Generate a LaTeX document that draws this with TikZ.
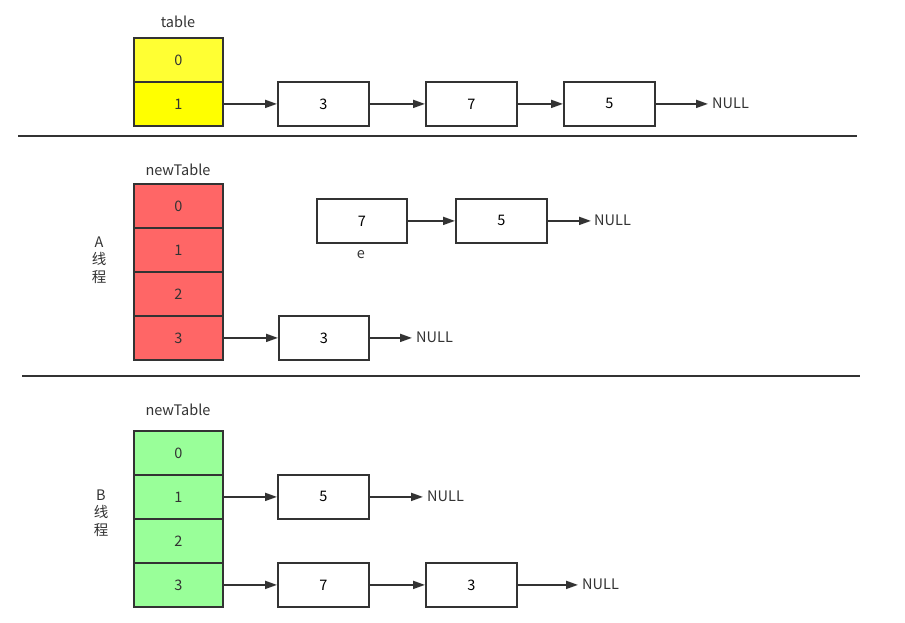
\documentclass[tikz,border=0pt]{standalone}
\usepackage{fontspec}
\setmainfont{Noto Sans CJK SC}
\usetikzlibrary{arrows.meta}
\definecolor{edge}{HTML}{333333}
\definecolor{ylwA}{HTML}{FFFF33}
\definecolor{ylwB}{HTML}{FFFF00}
\definecolor{redc}{HTML}{FF6666}
\definecolor{grnc}{HTML}{99FF99}
\begin{document}
\begin{tikzpicture}[x=1pt,y=-1pt,
  cell/.style={draw=edge,line width=1.8pt,minimum width=89pt,minimum height=44pt,inner sep=0pt,anchor=north west,text=edge,font=\fontsize{14.5}{17}\selectfont},
  lnode/.style={draw=edge,line width=1.8pt,fill=white,minimum width=91pt,minimum height=44pt,inner sep=0pt,anchor=north west,text=black,font=\fontsize{14.5}{17}\selectfont},
  lbl/.style={text=edge,font=\fontsize{14.5}{17}\selectfont,inner sep=0pt},
  nul/.style={lbl,anchor=west},
  link/.style={draw=edge,line width=1.8pt,-{Triangle[length=12pt,width=8pt]}},
  sep/.style={draw=edge,line width=1.8pt}]
\useasboundingbox (0,0) rectangle (905,622);
% top
\node[lbl] (tlab) at (178,22) {table};
\node[cell,fill=ylwA] (t0) at (133,37) {0};
\node[cell,fill=ylwB] (t1) at (133,81) {1};
\node[lnode] (ta) at (277,81) {3};
\node[lnode] (tb) at (425,81) {7};
\node[lnode] (tc) at (563,81) {5};
\node[nul] (tn) at (712,103.5) {NULL};
\draw[link] (t1.east) -- (ta.west);
\draw[link] (ta.east) -- (tb.west);
\draw[link] (tb.east) -- (tc.west);
\draw[link,shorten >=4pt] (tc.east) -- (tc.east -| tn.west);
\coordinate (s1a) at (18,136); \coordinate (s1b) at (857,136);
\draw[sep] (s1a) -- (s1b);
% A
\node[lbl] (alab) at (178,170) {newTable};
\node[cell,fill=redc] (a0) at (133,183) {0};
\node[cell,fill=redc] (a1) at (133,227) {1};
\node[cell,fill=redc] (a2) at (133,271) {2};
\node[cell,fill=redc] (a3) at (133,315) {3};
\node[lbl,align=center,font=\fontsize{14.5}{17.5}\selectfont] (athr) at (99,260) {A\\线\\程};
\node[lnode,minimum width=90pt] (ae) at (316,198) {7};
\node[lnode] (af) at (455,198) {5};
\node[nul] (an1) at (594,220.5) {NULL};
\node[lbl] (elab) at (361,255) {e};
\draw[link] (ae.east) -- (af.west);
\draw[link,shorten >=3pt] (af.east) -- (af.east -| an1.west);
\node[lnode,minimum width=90pt] (ag) at (278,315) {3};
\node[nul] (an2) at (416,337.5) {NULL};
\draw[link] (a3.east) -- (ag.west);
\draw[link,shorten >=4pt] (ag.east) -- (ag.east -| an2.west);
\coordinate (s2a) at (22,376); \coordinate (s2b) at (860,376);
\draw[sep] (s2a) -- (s2b);
% B
\node[lbl] (blab) at (178,410) {newTable};
\node[cell,fill=grnc] (b0) at (133,430) {0};
\node[cell,fill=grnc] (b1) at (133,474) {1};
\node[cell,fill=grnc] (b2) at (133,518) {2};
\node[cell,fill=grnc] (b3) at (133,562) {3};
\node[lbl,align=center,font=\fontsize{14.5}{17.5}\selectfont] (bthr) at (101,513) {B\\线\\程};
\node[lnode] (bp) at (277,474) {5};
\node[nul] (bn1) at (427,496.5) {NULL};
\draw[link] (b1.east) -- (bp.west);
\draw[link,shorten >=4pt] (bp.east) -- (bp.east -| bn1.west);
\node[lnode] (bq) at (277,562) {7};
\node[lnode] (br) at (425,562) {3};
\node[nul] (bn2) at (582,584.5) {NULL};
\draw[link] (b3.east) -- (bq.west);
\draw[link] (bq.east) -- (br.west);
\draw[link,shorten >=4pt] (br.east) -- (br.east -| bn2.west);
\end{tikzpicture}
\end{document}
